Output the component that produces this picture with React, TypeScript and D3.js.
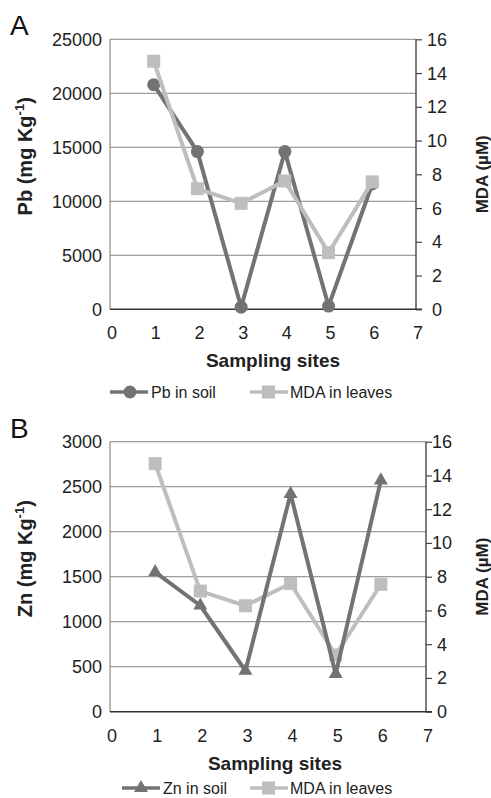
import React, { useRef, useEffect } from 'react'
import * as d3 from 'd3'

// values
const sites = [1, 2, 3, 4, 5, 6]
const pbSoil = [20800, 14600, 200, 14600, 300, 11600]
const znSoil = [1550, 1180, 455, 2420, 420, 2570]
const mdaLeaves = [14.7, 7.15, 6.28, 7.6, 3.36, 7.55]

const xTicks = [0, 1, 2, 3, 4, 5, 6, 7]
const pbTicks = [0, 5000, 10000, 15000, 20000, 25000]
const znTicks = [0, 500, 1000, 1500, 2000, 2500, 3000]
const mdaTicks = [0, 2, 4, 6, 8, 10, 12, 14, 16]

const DARK = '#737376'
const LIGHT = '#bdbec0'
const FONT = 'Arial, "Liberation Sans", sans-serif'

const panels = [
  {
    letter: 'A', metal: 'Pb', values: pbSoil, ticks: pbTicks, marker: 'circle',
    left: 110, right: 416, top: 39.3, bottom: 309.3,
    rightLabelDx: 21, titleX: 273, legendY: 392, legendX: 110, lightOnTop: true,
  },
  {
    letter: 'B', metal: 'Zn', values: znSoil, ticks: znTicks, marker: 'triangle',
    left: 110, right: 426, top: 441.7, bottom: 711.7,
    rightLabelDx: 16, titleX: 275, legendY: 788, legendX: 122, lightOnTop: false,
  },
]

export default function App() {
  const ref = useRef<SVGSVGElement>(null)

  useEffect(() => {
    const svg = d3.select(ref.current)
    svg.selectAll('*').remove()

    panels.forEach(p => {
      const g = svg.append('g')
      const x = d3.scaleLinear().domain([0, 7]).range([p.left, p.right])
      const yL = d3.scaleLinear().domain([0, d3.max(p.ticks)!]).range([p.bottom, p.top])
      const yR = d3.scaleLinear().domain([0, 16]).range([p.bottom, p.top])

      // gridlines
      g.selectAll('.grid')
        .data(p.ticks.slice(1))
        .join('line')
        .attr('x1', p.left).attr('x2', p.right)
        .attr('y1', d => yL(d)).attr('y2', d => yL(d))
        .attr('stroke', '#9d9d9d').attr('stroke-width', 1.2)

      // left border
      g.append('line')
        .attr('x1', p.left).attr('x2', p.left)
        .attr('y1', p.top).attr('y2', p.bottom)
        .attr('stroke', '#8c8c8c').attr('stroke-width', 1.2)

      // left tick labels
      g.selectAll('.ylab')
        .data(p.ticks)
        .join('text')
        .attr('x', p.left - 8)
        .attr('y', d => yL(d))
        .attr('dy', '0.36em')
        .attr('text-anchor', 'end')
        .attr('font-size', 18)
        .attr('fill', '#222')
        .text(d => d)

      // right axis
      const gr = g.append('g').attr('transform', `translate(${p.right},0)`)
      gr.call(d3.axisRight(yR).tickValues(mdaTicks).tickSize(6).tickFormat(() => ''))
      gr.select('.domain').remove()
      gr.selectAll('line').attr('stroke', '#444').attr('stroke-width', 1.2)
      g.append('line')
        .attr('x1', p.right).attr('x2', p.right)
        .attr('y1', p.top).attr('y2', p.bottom)
        .attr('stroke', '#444').attr('stroke-width', 1.4)
      g.selectAll('.rlab')
        .data(mdaTicks)
        .join('text')
        .attr('x', p.right + p.rightLabelDx)
        .attr('y', d => yR(d))
        .attr('dy', '0.36em')
        .attr('text-anchor', 'middle')
        .attr('font-size', 18)
        .attr('fill', '#222')
        .text(d => d)

      // bottom axis
      g.append('line')
        .attr('x1', p.left).attr('x2', p.right + 6)
        .attr('y1', p.bottom).attr('y2', p.bottom)
        .attr('stroke', '#333').attr('stroke-width', 1.4)
      g.selectAll('.xlab')
        .data(xTicks)
        .join('text')
        .attr('x', d => x(d) + 2)
        .attr('y', p.bottom + 30)
        .attr('text-anchor', 'middle')
        .attr('font-size', 18)
        .attr('fill', '#222')
        .text(d => d)

      // titles
      g.append('text')
        .attr('x', p.titleX).attr('y', p.bottom + 58)
        .attr('text-anchor', 'middle')
        .attr('font-size', 19).attr('font-weight', 'bold').attr('fill', '#222')
        .text('Sampling sites')

      const lt = g.append('text')
        .attr('transform', `translate(32,${(p.top + p.bottom) / 2 - 18}) rotate(-90)`)
        .attr('text-anchor', 'middle')
        .attr('font-size', 20).attr('font-weight', 'bold').attr('fill', '#222')
      lt.append('tspan').text(`${p.metal} (mg Kg`)
      lt.append('tspan').attr('font-size', 13).attr('dy', -8).text('-1')
      lt.append('tspan').attr('dy', 8).text(')')

      g.append('text')
        .attr('transform', `translate(488,${(p.top + p.bottom) / 2}) rotate(-90)`)
        .attr('text-anchor', 'middle')
        .attr('font-size', 17).attr('font-weight', 'bold').attr('fill', '#222')
        .text('MDA (µM)')

      g.append('text')
        .attr('x', 10).attr('y', p.top - 4)
        .attr('font-size', 28).attr('fill', '#111')
        .text(p.letter)

      // series
      const line = d3.line<number>().x((d, i) => x(sites[i]))
      const drawDark = () => {
        g.append('path')
          .datum(p.values)
          .attr('d', line.y(d => yL(d)))
          .attr('fill', 'none').attr('stroke', DARK).attr('stroke-width', 4)
          .attr('stroke-linejoin', 'round')
        if (p.marker === 'circle') {
          g.selectAll('.dot')
            .data(p.values)
            .join('circle')
            .attr('cx', (d, i) => x(sites[i])).attr('cy', d => yL(d))
            .attr('r', 6.5).attr('fill', DARK)
        } else {
          g.selectAll('.tri')
            .data(p.values)
            .join('path')
            .attr('d', d3.symbol(d3.symbolTriangle, 85)())
            .attr('transform', (d, i) => `translate(${x(sites[i])},${yL(d)})`)
            .attr('fill', DARK)
        }
      }
      const drawLight = () => {
        g.append('path')
          .datum(mdaLeaves)
          .attr('d', line.y(d => yR(d)))
          .attr('fill', 'none').attr('stroke', LIGHT).attr('stroke-width', 4)
          .attr('stroke-linejoin', 'round')
        g.selectAll('.sq')
          .data(mdaLeaves)
          .join('rect')
          .attr('x', (d, i) => x(sites[i]) - 6.5).attr('y', d => yR(d) - 6.5)
          .attr('width', 13).attr('height', 13)
          .attr('fill', LIGHT)
      }
      if (p.lightOnTop) { drawDark(); drawLight() } else { drawLight(); drawDark() }

      // legend
      const lg = g.append('g').attr('transform', `translate(0,${p.legendY})`)
      lg.append('line').attr('x1', p.legendX).attr('x2', p.legendX + 38)
        .attr('stroke', DARK).attr('stroke-width', 3.5)
      if (p.marker === 'circle') {
        lg.append('circle').attr('cx', p.legendX + 20).attr('r', 6.5).attr('fill', DARK)
      } else {
        lg.append('path').attr('d', d3.symbol(d3.symbolTriangle, 85)())
          .attr('transform', `translate(${p.legendX + 19},0)`).attr('fill', DARK)
      }
      lg.append('text').attr('x', p.legendX + 41).attr('y', 6)
        .attr('font-size', 16).attr('fill', '#222')
        .text(`${p.metal} in soil`)
      lg.append('line').attr('x1', 250).attr('x2', 288)
        .attr('stroke', LIGHT).attr('stroke-width', 3.5)
      lg.append('rect').attr('x', 262).attr('y', -6.5).attr('width', 13).attr('height', 13)
        .attr('fill', LIGHT)
      lg.append('text').attr('x', 290).attr('y', 6)
        .attr('font-size', 16).attr('fill', '#222')
        .text('MDA in leaves')
    })
  }, [])

  return (
    <svg ref={ref} width={491} height={798}
      style={{ position: 'absolute', left: 0, top: 0, background: '#fff', fontFamily: FONT }} />
  )
}
